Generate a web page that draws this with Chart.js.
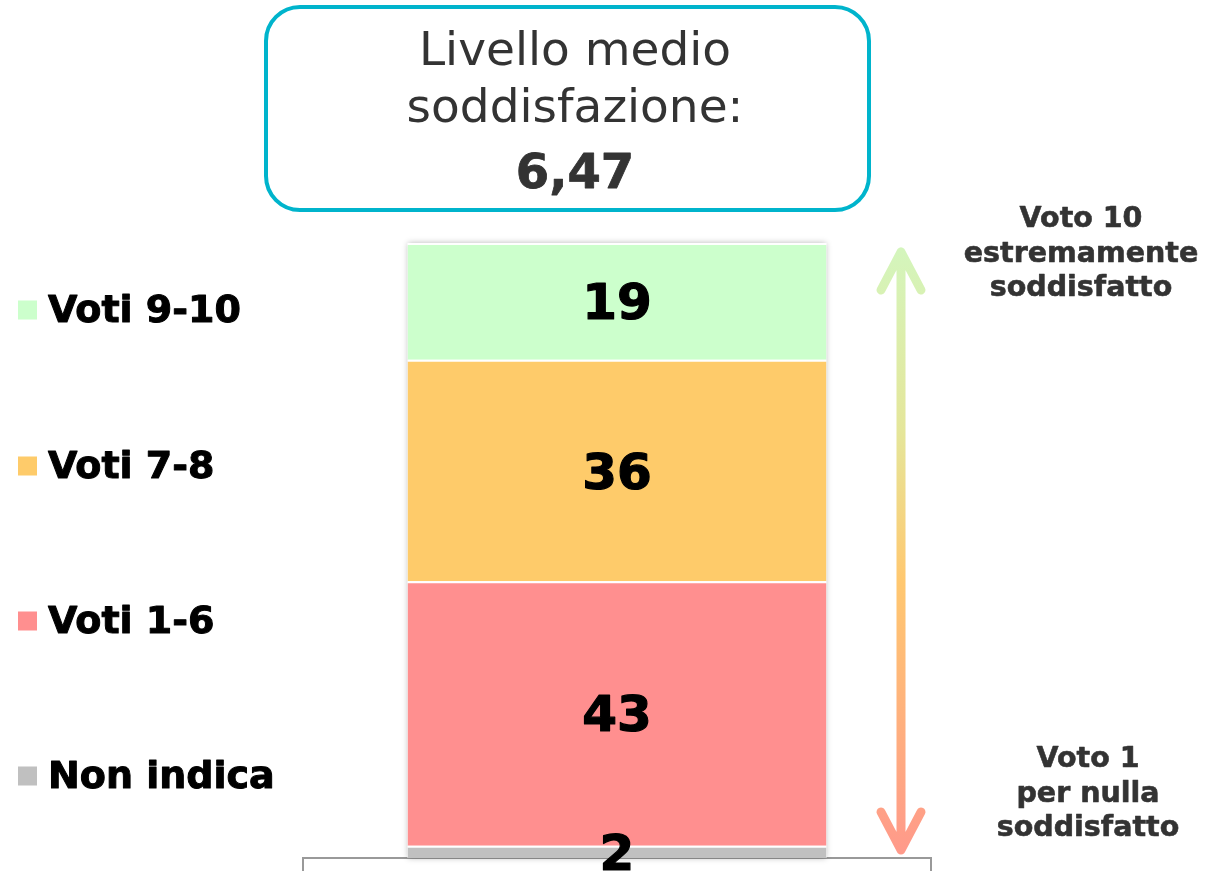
<!DOCTYPE html>
<html>
<head>
<meta charset="utf-8">
<script src="https://cdn.jsdelivr.net/npm/chart.js@4/dist/chart.umd.min.js"></script>
<style>
  html, body { margin: 0; padding: 0; background: #ffffff; }
  #wrap { width: 1215px; height: 873px; position: relative; overflow: hidden; }
</style>
</head>
<body>
<div id="wrap"><canvas id="c" width="1215" height="873"></canvas></div>
<script>
// ---- data ----
const categories = [''];
const seriesLabels = ['Non indica', 'Voti 1-6', 'Voti 7-8', 'Voti 9-10'];
const nonIndica = [2];
const voti1_6 = [43];
const voti7_8 = [36];
const voti9_10 = [19];
const seriesColors = ['#C0C0C0', '#FF8F8F', '#FECB6A', '#CCFFCC'];
const titleLines = ['Livello medio', 'soddisfazione:'];
const meanScore = '6,47';
const topNote = ['Voto 10', 'estremamente', 'soddisfatto'];
const bottomNote = ['Voto 1', 'per nulla', 'soddisfatto'];

const seriesValues = [nonIndica, voti1_6, voti7_8, voti9_10];

const datasets = seriesLabels.map((lab, i) => ({
  label: lab,
  data: seriesValues[i],
  backgroundColor: seriesColors[i],
  borderColor: '#ffffff',
  borderWidth: { top: 2, left: 0, right: 0, bottom: 0 },
  borderSkipped: false,
  barPercentage: 0.667,
  categoryPercentage: 1.0
}));

function roundRect(ctx, x, y, w, h, r) {
  ctx.beginPath();
  ctx.moveTo(x + r, y);
  ctx.lineTo(x + w - r, y);
  ctx.arcTo(x + w, y, x + w, y + r, r);
  ctx.lineTo(x + w, y + h - r);
  ctx.arcTo(x + w, y + h, x + w - r, y + h, r);
  ctx.lineTo(x + r, y + h);
  ctx.arcTo(x, y + h, x, y + h - r, r);
  ctx.lineTo(x, y + r);
  ctx.arcTo(x, y, x + r, y, r);
  ctx.closePath();
}

function heavyText(ctx, txt, x, y, w) {
  ctx.lineWidth = w;
  ctx.lineJoin = 'round';
  ctx.strokeStyle = ctx.fillStyle;
  ctx.strokeText(txt, x, y);
  ctx.fillText(txt, x, y);
}

const decorPlugin = {
  id: 'decor',
  beforeDatasetsDraw(chart) {
    const ctx = chart.ctx;
    const first = chart.getDatasetMeta(0).data[0];
    const last = chart.getDatasetMeta(chart.data.datasets.length - 1).data[0];
    if (!first || !last) return;
    const left = first.x - first.width / 2;
    const top = last.y;
    const bottom = first.base;
    ctx.save();
    ctx.shadowColor = 'rgba(0,0,0,0.28)';
    ctx.shadowBlur = 6;
    ctx.fillStyle = '#ffffff';
    ctx.fillRect(left, top, first.width, bottom - top);
    ctx.restore();
  },
  afterDatasetsDraw(chart) {
    const ctx = chart.ctx;
    ctx.save();
    // value labels
    ctx.fillStyle = '#000000';
    ctx.font = 'bold 50px "DejaVu Sans", Verdana, sans-serif';
    ctx.textAlign = 'center';
    ctx.textBaseline = 'middle';
    chart.data.datasets.forEach((ds, i) => {
      const el = chart.getDatasetMeta(i).data[0];
      const cy = (el.y + el.base) / 2;
      heavyText(ctx, String(ds.data[0]), el.x, cy + 5, 1.2);
    });

    // legend (top to bottom: reverse of stack order)
    const legendY = [310, 466, 621, 776];
    ctx.textAlign = 'left';
    ctx.textBaseline = 'middle';
    ctx.font = 'bold 38px "DejaVu Sans", Verdana, sans-serif';
    const n = chart.data.datasets.length;
    for (let k = 0; k < n; k++) {
      const ds = chart.data.datasets[n - 1 - k];
      const y = legendY[k];
      ctx.fillStyle = ds.backgroundColor;
      ctx.fillRect(18, y - 9.5, 19, 19);
      ctx.fillStyle = '#000000';
      heavyText(ctx, ds.label, 48, y + 2, 1);
    }

    // title box
    ctx.lineWidth = 4;
    ctx.strokeStyle = '#00B4CC';
    roundRect(ctx, 266, 7, 603, 203, 34);
    ctx.stroke();
    ctx.fillStyle = '#333333';
    ctx.textAlign = 'center';
    ctx.textBaseline = 'alphabetic';
    ctx.font = '47px "DejaVu Sans", Tahoma, sans-serif';
    ctx.fillText(titleLines[0], 575, 65);
    ctx.fillText(titleLines[1], 575, 122);
    ctx.font = 'bold 48px "DejaVu Sans", Tahoma, sans-serif';
    heavyText(ctx, meanScore, 575, 188, 0.8);

    // double arrow with gradient
    const ax = 901, aTop = 252, aBot = 850;
    const g = ctx.createLinearGradient(0, aTop, 0, aBot);
    g.addColorStop(0, '#D4F5BC');
    g.addColorStop(0.3, '#E5E69A');
    g.addColorStop(0.55, '#FFC870');
    g.addColorStop(1, '#FF9A8A');
    ctx.strokeStyle = g;
    ctx.lineWidth = 9;
    ctx.lineCap = 'round';
    ctx.lineJoin = 'round';
    ctx.beginPath();
    ctx.moveTo(ax, aTop);
    ctx.lineTo(ax, aBot);
    ctx.moveTo(ax - 20, aTop + 38);
    ctx.lineTo(ax, aTop);
    ctx.lineTo(ax + 20, aTop + 38);
    ctx.moveTo(ax - 20, aBot - 38);
    ctx.lineTo(ax, aBot);
    ctx.lineTo(ax + 20, aBot - 38);
    ctx.stroke();

    // side notes
    ctx.fillStyle = '#333333';
    ctx.font = 'bold 28.5px "DejaVu Sans", Verdana, sans-serif';
    ctx.textAlign = 'center';
    heavyText(ctx, topNote[0], 1081, 227, 0.6);
    heavyText(ctx, topNote[1], 1081, 262, 0.6);
    heavyText(ctx, topNote[2], 1081, 296, 0.6);
    heavyText(ctx, bottomNote[0], 1088, 767, 0.6);
    heavyText(ctx, bottomNote[1], 1088, 802, 0.6);
    heavyText(ctx, bottomNote[2], 1088, 836, 0.6);
    ctx.restore();
  }
};

new Chart(document.getElementById('c'), {
  type: 'bar',
  data: { labels: categories, datasets: datasets },
  options: {
    responsive: false,
    animation: false,
    devicePixelRatio: 1,
    layout: { padding: { left: 303, right: 284, top: 243, bottom: 2 } },
    plugins: { legend: { display: false }, tooltip: { enabled: false } },
    scales: {
      x: {
        stacked: true,
        offset: true,
        ticks: { display: false },
        grid: { drawOnChartArea: false, drawTicks: true, tickLength: 13, color: '#999999', lineWidth: 2, offset: true },
        border: { display: true, color: '#999999', width: 2 }
      },
      y: {
        stacked: true,
        display: false,
        min: 0,
        max: 100
      }
    }
  },
  plugins: [decorPlugin]
});
</script>
</body>
</html>
